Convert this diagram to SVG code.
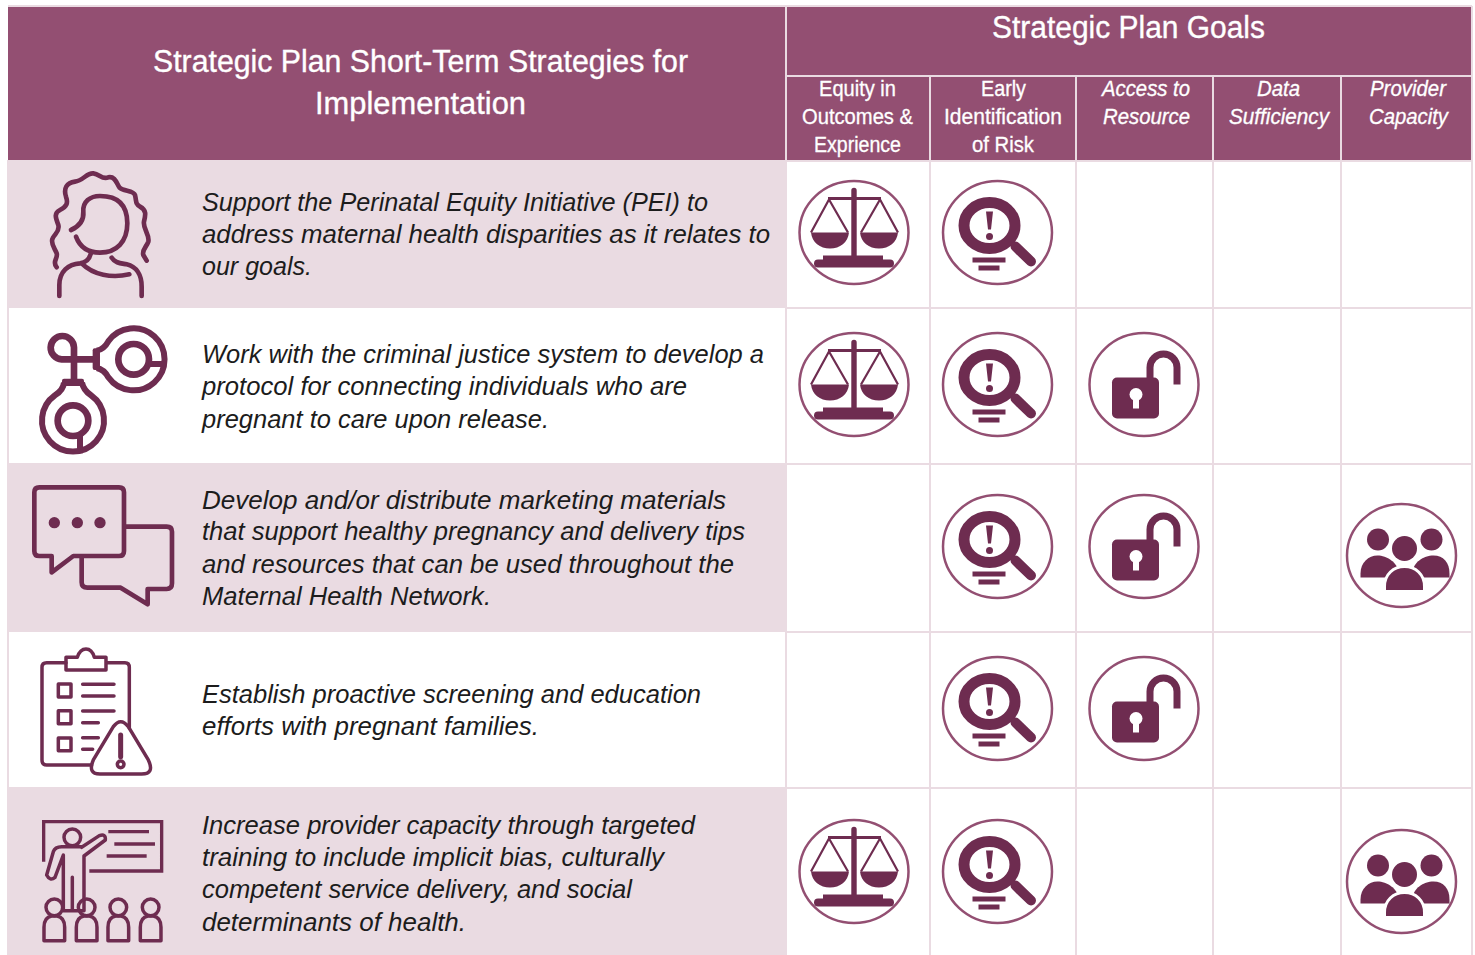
<svg xmlns="http://www.w3.org/2000/svg" xmlns:xlink="http://www.w3.org/1999/xlink" width="1475" height="955" viewBox="0 0 1475 955">
<style>
.hd{fill:#934f72}.band{fill:#eadbe2}.grid{stroke:#eadbe2;stroke-width:2;fill:none}
text{font-family:"Liberation Sans",Arial,sans-serif}
.h1{font-size:31px;fill:#fff;stroke:#fff;stroke-width:.35}.h2{font-size:21.5px;fill:#fff;stroke:#fff;stroke-width:.3}.i{font-style:italic}
.b{font-size:25px;font-style:italic;fill:#1c1c1c}
.ln{fill:none;stroke:#6e2c50;stroke-width:14;stroke-linecap:round;stroke-linejoin:round}
.ln2{fill:none;stroke:#6e2c50;stroke-width:10.500;stroke-linecap:round;stroke-linejoin:round}
.ring{fill:#fff;stroke:#934f72;stroke-width:2.500}
.f{fill:#6e2c50}
</style>
<defs>
<g id="scales"><ellipse class="ring" rx="54.500" ry="51.500"/>
<path class="f" d="M-2.700 -42a2.700 2.700 0 0 1 5.400 0V24h-5.400zM-26 -35.500H27V-32.500H-26zM-43 0H-5C-6 10 -14 16 -24 16S-42 10 -43 0zM6 0H44C43 10 35 16 25 16S7 10 6 0zM-31 23H29V28H-31zM-36 27H36Q40 27 40 31T36 35H-36Q-40 35 -40 31T-36 27z"/>
<path d="M-25 -33L-43 0M-25 -33L-6 0M26 -33L7 0M26 -33L44 0" fill="none" stroke="#6e2c50" stroke-width="2.200"/></g>
<g id="search"><ellipse class="ring" rx="54.500" ry="51.500"/>
<ellipse cx="-8" cy="-7" rx="25.500" ry="23" fill="none" stroke="#6e2c50" stroke-width="11"/>
<path class="f" d="M-11.500 -21H-4.500L-6.500 -3H-9.500zM-25 25H8V30H-25zM-19 33H2V38H-19z"/><circle class="f" cx="-8" cy="4" r="3.500"/>
<path d="M18 14L33.500 29" stroke="#6e2c50" stroke-width="10" stroke-linecap="round"/></g>
<g id="lock"><ellipse class="ring" rx="54.500" ry="51.500"/>
<rect class="f" x="-32" y="-7" width="47" height="41" rx="5"/>
<path d="M6 -6V-17A13.500 13.500 0 0 1 33 -17V0" fill="none" stroke="#6e2c50" stroke-width="7"/>
<circle cx="-8" cy="10" r="6.500" fill="#fff"/><path d="M-11 11H-5V24H-11z" fill="#fff"/></g>
<g id="people"><ellipse class="ring" rx="54.500" ry="51.500"/>
<g class="f"><circle cx="-23.500" cy="-16" r="11"/><circle cx="30" cy="-16" r="11"/><circle cx="3" cy="-7" r="12.500"/>
<path d="M-41 22V18C-41 7 -33 0 -24 0S-3 7 -3 18V22z"/><path d="M11 22V18C11 7 22 0 32 0S48 7 48 18V22z"/>
<path d="M-17 36V31C-17 19 -8 11 3 11S23 19 23 31V36z" stroke="#fff" stroke-width="3"/></g></g>
<g id="seat"><circle cx="0" cy="0" r="25" class="ln2"/><path class="ln2" d="M-31 100V60Q-31 30 -8 26H8Q31 30 31 60V100z"/></g>
</defs>

<g id="bands">
<rect class="band" x="7" y="160" width="779" height="148"/>
<rect class="band" x="7" y="463" width="779" height="169"/>
<rect class="band" x="7" y="787" width="779" height="168"/>
<rect class="band" x="7" y="308" width="2" height="155"/><rect class="band" x="7" y="632" width="2" height="155"/>
</g>
<g id="header">
<rect class="hd" x="8" y="7" width="777" height="153"/>
<rect class="hd" x="787" y="7" width="684" height="68"/>
<rect class="hd" x="787" y="77" width="142" height="83"/>
<rect class="hd" x="931" y="77" width="144" height="83"/>
<rect class="hd" x="1077" y="77" width="135" height="83"/>
<rect class="hd" x="1214" y="77" width="126" height="83"/>
<rect class="hd" x="1342" y="77" width="129" height="83"/>
<text class="h1" x="153" y="72" textLength="535" lengthAdjust="spacingAndGlyphs">Strategic Plan Short-Term Strategies for</text>
<text class="h1" x="315" y="114" textLength="211" lengthAdjust="spacingAndGlyphs">Implementation</text>
<text class="h1" x="992" y="38" textLength="273" lengthAdjust="spacingAndGlyphs">Strategic Plan Goals</text>
<text class="h2" x="819" y="96" textLength="77" lengthAdjust="spacingAndGlyphs">Equity in</text>
<text class="h2" x="802" y="124" textLength="111" lengthAdjust="spacingAndGlyphs">Outcomes &amp;</text>
<text class="h2" x="814" y="152" textLength="87" lengthAdjust="spacingAndGlyphs">Exprience</text>
<text class="h2" x="981" y="96" textLength="45" lengthAdjust="spacingAndGlyphs">Early</text>
<text class="h2" x="944" y="124" textLength="118" lengthAdjust="spacingAndGlyphs">Identification</text>
<text class="h2" x="972" y="152" textLength="62" lengthAdjust="spacingAndGlyphs">of Risk</text>
<text class="h2 i" x="1102" y="96" textLength="88" lengthAdjust="spacingAndGlyphs">Access to</text>
<text class="h2 i" x="1103" y="124" textLength="87" lengthAdjust="spacingAndGlyphs">Resource</text>
<text class="h2 i" x="1257" y="96" textLength="43" lengthAdjust="spacingAndGlyphs">Data</text>
<text class="h2 i" x="1229" y="124" textLength="100" lengthAdjust="spacingAndGlyphs">Sufficiency</text>
<text class="h2 i" x="1370" y="96" textLength="76" lengthAdjust="spacingAndGlyphs">Provider</text>
<text class="h2 i" x="1369" y="124" textLength="79" lengthAdjust="spacingAndGlyphs">Capacity</text>
</g>
<g id="grid">
<path class="grid" d="M8 6H1472M786 6V955M787 76H1472M930 76V955M1076 76V955M1213 76V955M1341 76V955M1472 6V955M786 161H1472M786 308H1472M786 464H1472M786 632H1472M786 788H1472"/>
</g>

<g id="row1">
<g transform="translate(0,160) scale(.3333)">
<path class="ln" d="M170 322C155 305 175 295 170 280C165 265 150 250 158 235C165 220 180 215 175 195C168 175 160 160 180 150C200 140 205 130 198 110C190 85 200 68 225 65C250 62 260 38 280 40C300 42 305 60 325 52C345 48 350 70 358 82C370 95 400 90 405 105C410 125 405 130 420 140C440 150 437 165 432 185C428 205 450 225 445 245C440 260 425 270 430 285L440 302"/>
<path class="ln" d="M213 210C240 198 252 180 250 155C248 125 270 108 300 108C350 108 382 130 382 190C382 245 350 278 300 278C265 278 240 262 228 230"/>
<path class="ln" d="M272 282C268 298 255 308 240 310C205 312 178 335 178 375V408M245 310C280 345 335 355 388 343M335 293C345 310 365 310 380 313C410 320 425 345 425 380V408"/>
</g>
<text class="b" x="202" y="210.500" textLength="506" lengthAdjust="spacingAndGlyphs">Support the Perinatal Equity Initiative (PEI) to</text>
<text class="b" x="202" y="243" textLength="568" lengthAdjust="spacingAndGlyphs">address maternal health disparities as it relates to</text>
<text class="b" x="202" y="275" textLength="110" lengthAdjust="spacingAndGlyphs">our goals.</text>
<use xlink:href="#scales" href="#scales" x="854" y="232.500"/><use href="#search" xlink:href="#search" x="997.500" y="232.500"/>
</g>
<g id="row2">
<g transform="translate(0,160) scale(.3333)">
<g fill="none" stroke="#6e2c50" stroke-width="18">
<path stroke-width="20" d="M290 598H185A35 35 0 1 1 222 562V665"/>
<path d="M290 572Q312 568 325 544A93 93 0 1 1 325 652Q312 628 290 624"/>
<circle stroke-width="20" cx="401" cy="598" r="46"/><path d="M445 612H498"/>
<path d="M192 668Q190 690 165 706A93 93 0 1 0 273 706Q250 690 246 668"/>
<circle stroke-width="20" cx="219" cy="782" r="46"/><path d="M240 825V880"/>
</g>
<rect class="f" x="278" y="565" width="22" height="65" rx="6"/><rect class="f" x="186" y="656" width="66" height="22" rx="6"/>
</g>
<text class="b" x="202" y="362.500" textLength="562" lengthAdjust="spacingAndGlyphs">Work with the criminal justice system to develop a</text>
<text class="b" x="202" y="395" textLength="485" lengthAdjust="spacingAndGlyphs">protocol for connecting individuals who are</text>
<text class="b" x="202" y="427.500" textLength="347" lengthAdjust="spacingAndGlyphs">pregnant to care upon release.</text>
<use href="#scales" xlink:href="#scales" x="854" y="384.500"/><use href="#search" xlink:href="#search" x="997.500" y="384.500"/><use href="#lock" xlink:href="#lock" x="1144" y="384.500"/>
</g>
<g id="row3">
<g transform="translate(0,470) scale(.3333)">
<path class="ln" d="M155 258H118Q103 258 103 243V67Q103 52 118 52H357Q372 52 372 67V243Q372 258 357 258H220L155 307z"/>
<path class="ln" d="M378 170H500Q516 170 516 185V340Q516 357 500 357H443V403L362 353H262Q245 353 245 337V262"/>
<circle class="f" cx="163" cy="158" r="17"/><circle class="f" cx="232" cy="158" r="17"/><circle class="f" cx="300" cy="158" r="17"/>
</g>
<text class="b" x="202" y="508.500" textLength="524" lengthAdjust="spacingAndGlyphs">Develop and/or distribute marketing materials</text>
<text class="b" x="202" y="540" textLength="543" lengthAdjust="spacingAndGlyphs">that support healthy pregnancy and delivery tips</text>
<text class="b" x="202" y="573" textLength="532" lengthAdjust="spacingAndGlyphs">and resources that can be used throughout the</text>
<text class="b" x="202" y="605" textLength="289" lengthAdjust="spacingAndGlyphs">Maternal Health Network.</text>
<use href="#search" xlink:href="#search" x="997.500" y="546.500"/><use href="#lock" xlink:href="#lock" x="1144" y="546.500"/><use href="#people" xlink:href="#people" x="1401.500" y="555.500"/>
</g>
<g id="row4">
<g transform="translate(0,470) scale(.3333)">
<path class="ln2" d="M275 885H140Q126 885 126 870V592Q126 578 140 578H198M320 578H375Q388 578 388 592V775"/>
<path class="ln2" d="M198 600V562H232Q240 537 258 537Q276 537 283 562H318V600z"/>
<path class="ln2" d="M175 642H213V681H175zM175 722H213V761H175zM175 804H213V842H175zM248 643H342M248 678H342M248 723H342M248 758H295M248 803H295M248 838H278"/>
<path class="ln2" d="M340 770Q362 740 385 770L445 870Q465 912 425 912H300Q262 912 280 870z"/>
<path d="M362 795V860" fill="none" stroke="#6e2c50" stroke-width="15" stroke-linecap="round"/><circle class="ln2" cx="362" cy="883" r="10"/>
</g>
<text class="b" x="202" y="702.500" textLength="499" lengthAdjust="spacingAndGlyphs">Establish proactive screening and education</text>
<text class="b" x="202" y="735" textLength="337" lengthAdjust="spacingAndGlyphs">efforts with pregnant families.</text>
<use href="#search" xlink:href="#search" x="997.500" y="708.500"/><use href="#lock" xlink:href="#lock" x="1144" y="708.500"/>
</g>
<g id="row5">
<g transform="translate(0,790) scale(.3333)">
<path class="ln2" style="stroke-linecap:butt;stroke-linejoin:miter;stroke-width:10" d="M131 215V95H485V243H268M325 125H447M343 162H465M320 198H440"/>
<circle class="ln2" cx="217" cy="142" r="25"/>
<path class="ln2" d="M245 172L298 137Q318 130 316 150L252 198V362H190V195L165 262Q150 275 140 255L160 185Q165 170 185 170H245M217 262V362"/>
<use href="#seat" xlink:href="#seat" x="163" y="352"/><use href="#seat" xlink:href="#seat" x="260" y="352"/><use href="#seat" xlink:href="#seat" x="355" y="352"/><use href="#seat" xlink:href="#seat" x="452" y="352"/>
</g>
<text class="b" x="202" y="833.500" textLength="493" lengthAdjust="spacingAndGlyphs">Increase provider capacity through targeted</text>
<text class="b" x="202" y="865.500" textLength="462" lengthAdjust="spacingAndGlyphs">training to include implicit bias, culturally</text>
<text class="b" x="202" y="898" textLength="430" lengthAdjust="spacingAndGlyphs">competent service delivery, and social</text>
<text class="b" x="202" y="930.500" textLength="264" lengthAdjust="spacingAndGlyphs">determinants of health.</text>
<use href="#scales" xlink:href="#scales" x="854" y="871.500"/><use href="#search" xlink:href="#search" x="997.500" y="871.500"/><use href="#people" xlink:href="#people" x="1401.500" y="881.500"/>
</g>
</svg>
